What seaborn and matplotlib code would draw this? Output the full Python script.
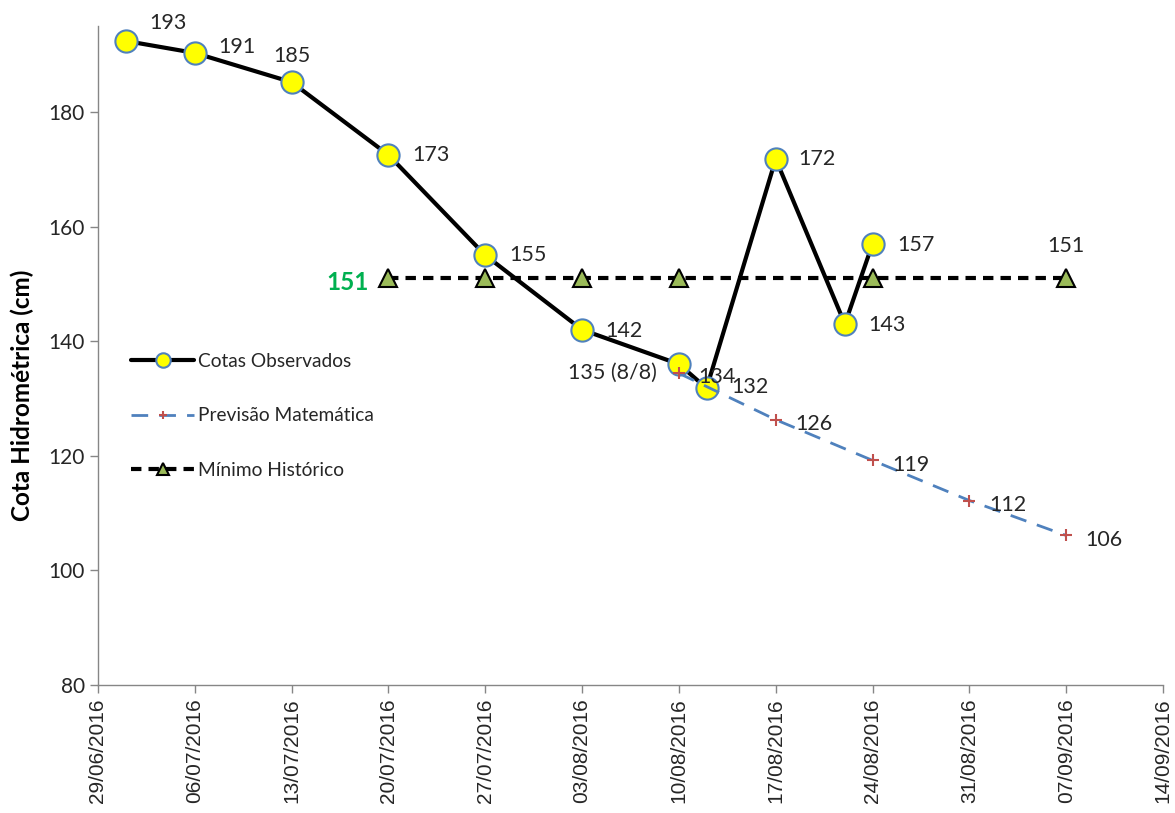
import pandas as pd
import seaborn as sns
import matplotlib.pyplot as plt
import matplotlib.dates as mdates

# Cotas observadas
obs_datas = ['2016-07-01', '2016-07-06', '2016-07-13', '2016-07-20', '2016-07-27', '2016-08-03',
             '2016-08-10', '2016-08-12', '2016-08-17', '2016-08-22', '2016-08-24']
obs_cotas = [192.4, 190.3, 185.2, 172.5, 155.0, 142.0, 136.0, 131.8, 171.8, 143.0, 157.0]
obs_rotulos = ['193', '191', '185', '173', '155', '142', '135 (8/8)', '132', '172', '143', '157']

# Previsao matematica
prev_datas = ['2016-08-10', '2016-08-17', '2016-08-24', '2016-08-31', '2016-09-07']
prev_cotas = [134.4, 126.3, 119.2, 112.2, 106.1]
prev_rotulos = ['134', '126', '119', '112', '106']

# Minimo historico
min_datas = ['2016-07-20', '2016-07-27', '2016-08-03', '2016-08-10', '2016-08-24', '2016-09-07']
min_cotas = [151, 151, 151, 151, 151, 151]

df_obs = pd.DataFrame({'data': pd.to_datetime(obs_datas), 'cota': obs_cotas})
df_prev = pd.DataFrame({'data': pd.to_datetime(prev_datas), 'cota': prev_cotas})
df_min = pd.DataFrame({'data': pd.to_datetime(min_datas), 'cota': min_cotas})

sns.set_style('white')
plt.rcParams['font.family'] = ['Lato', 'DejaVu Sans']

fig, ax = plt.subplots(figsize=(11.75, 8.13), dpi=100)
fig.subplots_adjust(left=0.0834, right=0.9898, top=0.968, bottom=0.1574)

sns.lineplot(data=df_obs, x='data', y='cota', ax=ax, sort=False, color='black', linewidth=3,
             marker='o', markersize=16, markerfacecolor='#FFFF00', markeredgecolor='#4F81BD',
             markeredgewidth=1.5, label='Cotas Observados', zorder=2)
sns.lineplot(data=df_prev, x='data', y='cota', ax=ax, sort=False, color='#4F81BD', linewidth=2,
             linestyle=(0, (6, 4)), marker='+', markersize=9, markeredgecolor='#C0504D',
             markeredgewidth=1.5, label='Previsão Matemática', zorder=3)
sns.lineplot(data=df_min, x='data', y='cota', ax=ax, sort=False, color='black', linewidth=3,
             linestyle=(0, (2.5, 1.7)), marker='^', markersize=13, markerfacecolor='#9BBB59',
             markeredgecolor='black', markeredgewidth=1.5, label='Mínimo Histórico', zorder=4)

# rotulos dos dados
obs_off = [(17, 13), (17, 4), (0, 19), (17, 0), (17, 0), (17, -1), (-16, -6), (18, 1), (16, 0), (17, -1), (18, -1)]
for (d, c), txt, off in zip(zip(df_obs['data'], df_obs['cota']), obs_rotulos, obs_off):
    ha = 'right' if off[0] < 0 else ('center' if off[0] == 0 else 'left')
    ax.annotate(txt, (d, c), xytext=off, textcoords='offset points', ha=ha, va='center',
                fontsize=15.5, color='#262626', zorder=6)
for d, c, txt in zip(df_prev['data'], df_prev['cota'], prev_rotulos):
    ax.annotate(txt, (d, c), xytext=(14, -3), textcoords='offset points', ha='left', va='center',
                fontsize=15.5, color='#262626', zorder=6)
ax.annotate(str(min_cotas[0]), (df_min['data'].iloc[0], min_cotas[0]), xytext=(-14, -3),
            textcoords='offset points', ha='right', va='center', fontsize=17.5, fontweight='bold',
            color='#00B050')
ax.annotate(str(min_cotas[-1]), (df_min['data'].iloc[-1], min_cotas[-1]), xytext=(0, 23),
            textcoords='offset points', ha='center', va='center', fontsize=15.5, color='#262626')

ax.set_xlim(pd.Timestamp('2016-06-29'), pd.Timestamp('2016-09-14'))
ax.set_ylim(80, 195)
ax.set_yticks(range(80, 181, 20))
ax.set_xticks(pd.date_range('2016-06-29', '2016-09-14', freq='7D'))
ax.xaxis.set_major_formatter(mdates.DateFormatter('%d/%m/%Y'))
for lbl in ax.get_xticklabels():
    lbl.set_rotation(90)
    lbl.set_fontfamily(['Liberation Sans', 'DejaVu Sans'])
    lbl.set_fontsize(15)
    lbl.set_color('#262626')
ax.tick_params(axis='y', labelsize=15, labelcolor='#262626')
ax.tick_params(axis='both', direction='out', length=6, width=1, color='#868686', left=True, bottom=True)

ax.set_xlabel('')
ax.set_ylabel('Cota Hidrométrica (cm)', fontsize=17.5, fontweight='bold', color='black')
ax.yaxis.set_label_coords(-0.06, 0.44)

for s in ['top', 'right']:
    ax.spines[s].set_visible(False)
for s in ['left', 'bottom']:
    ax.spines[s].set_color('#868686')
    ax.spines[s].set_linewidth(1)

ax.legend(loc='upper left', bbox_to_anchor=(0.015, 0.53), frameon=False, fontsize=13.8,
          labelspacing=1.95, handlelength=3.3, handletextpad=0.2, markerscale=0.65)

plt.savefig('out.png', dpi=100)
